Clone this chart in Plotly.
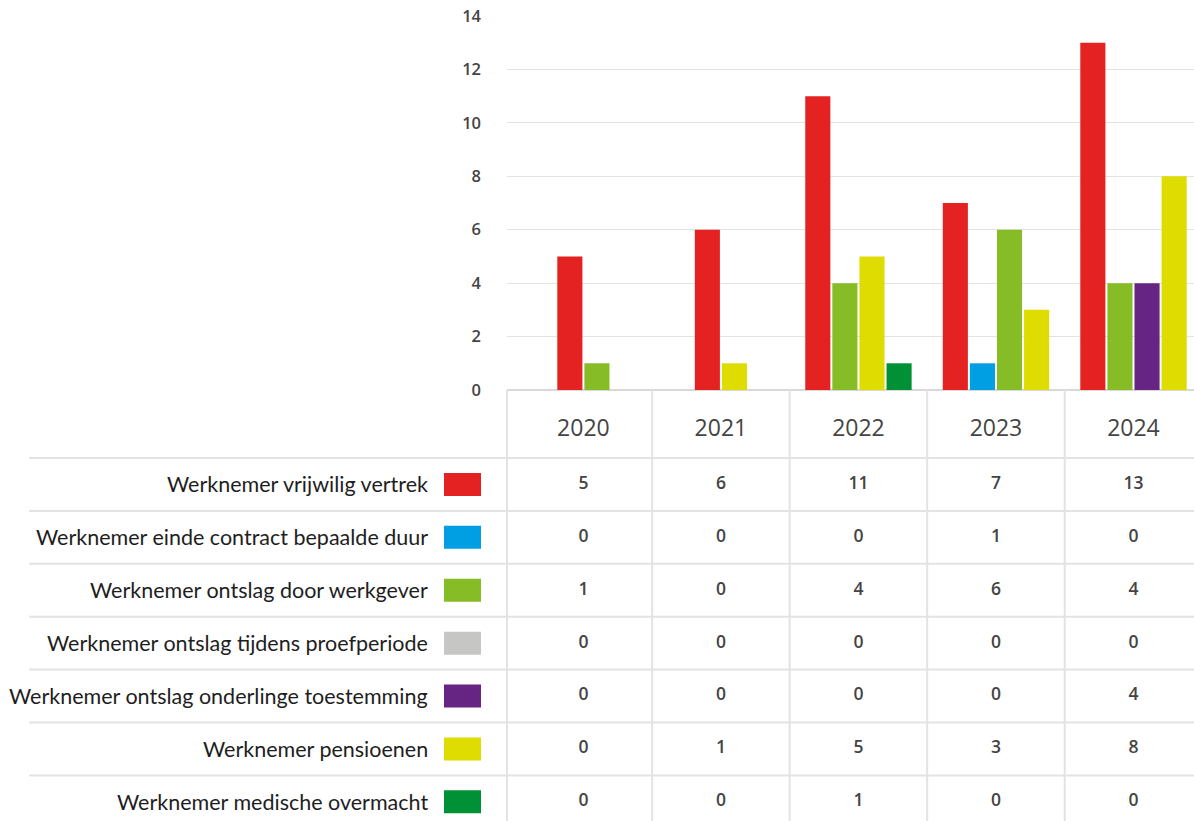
import plotly.graph_objects as go

# --- data -------------------------------------------------------------
years = ["2020", "2021", "2022", "2023", "2024"]

series_names = [
    "Werknemer vrijwilig vertrek",
    "Werknemer einde contract bepaalde duur",
    "Werknemer ontslag door werkgever",
    "Werknemer ontslag tijdens proefperiode",
    "Werknemer ontslag onderlinge toestemming",
    "Werknemer pensioenen",
    "Werknemer medische overmacht",
]

vrijwilig_vertrek = [5, 6, 11, 7, 13]
einde_contract = [0, 0, 0, 1, 0]
ontslag_werkgever = [1, 0, 4, 6, 4]
ontslag_proefperiode = [0, 0, 0, 0, 0]
ontslag_onderling = [0, 0, 0, 0, 4]
pensioenen = [0, 1, 5, 3, 8]
medische_overmacht = [0, 0, 1, 0, 0]

series_values = [
    vrijwilig_vertrek,
    einde_contract,
    ontslag_werkgever,
    ontslag_proefperiode,
    ontslag_onderling,
    pensioenen,
    medische_overmacht,
]

series_colors = ["#e52222", "#009fe3", "#86bc25", "#c6c6c5", "#662483", "#dedc00", "#009036"]

y_ticks = [0, 2, 4, 6, 8, 10, 12, 14]

# --- layout constants ---------------------------------------------------
W, H = 1194, 821
ML, MR, MT, MB = 507, 0, 16, 0
PLOT_W = W - ML - MR
PLOT_H = H - MT - MB
TABLE_PX = 431                      # height of the table block under the bars
split = TABLE_PX / PLOT_H

BAR_W = 0.1825                      # bar width in category units
SLOT = 0.197                        # bar width + gap
X_RANGE = [-0.5555, 4.44]
ROW_PX = 52.9
Y2_TOP = 0.5 - 68 / ROW_PX          # header row is 68 px tall
Y2_RANGE = [0.5 + (TABLE_PX - 68) / ROW_PX, Y2_TOP]

GRID = "#e3e3e3"
TXT = "#444444"


def px_to_paper_x(px):
    return (px - ML) / PLOT_W


# offsets: zero-valued bars are left out and the remaining bars are centred
offsets = [[0.0] * len(years) for _ in series_names]
for j in range(len(years)):
    present = [k for k in range(len(series_names)) if series_values[k][j] != 0]
    n = len(present)
    for p, k in enumerate(present):
        offsets[k][j] = -n * SLOT / 2 + p * SLOT + (SLOT - BAR_W) / 2

fig = go.Figure()

for k, name in enumerate(series_names):
    fig.add_trace(go.Bar(
        x=years, y=series_values[k], name=name,
        width=BAR_W, offset=offsets[k],
        marker=dict(color=series_colors[k], line=dict(width=0)),
        xaxis="x", yaxis="y", showlegend=False, hoverinfo="x+y+name",
    ))

# table: year header
fig.add_trace(go.Scatter(
    x=years, y=[0.5 - 28 / ROW_PX] * len(years), mode="text", text=years,
    textfont=dict(family="Open Sans", size=23, color=TXT),
    xaxis="x2", yaxis="y2", showlegend=False, hoverinfo="skip",
))

# table: values
cell_x, cell_y, cell_t = [], [], []
for k in range(len(series_names)):
    for j, yr in enumerate(years):
        cell_x.append(yr)
        cell_y.append(k + 1)
        cell_t.append(str(series_values[k][j]))
fig.add_trace(go.Scatter(
    x=cell_x, y=cell_y, mode="text", text=cell_t,
    textfont=dict(family="Open Sans", size=17.5, color=TXT, weight=600),
    xaxis="x2", yaxis="y2", showlegend=False, hoverinfo="skip",
))

shapes = []
annotations = []

# row separators
for r in range(len(series_names) + 1):
    shapes.append(dict(type="line", xref="paper", yref="y2",
                       x0=px_to_paper_x(29), x1=1, y0=r + 0.5, y1=r + 0.5,
                       line=dict(color=GRID, width=2), layer="below"))

# column separators
shapes.append(dict(type="line", xref="paper", yref="y2", x0=0, x1=0,
                   y0=Y2_RANGE[1], y1=Y2_RANGE[0] + 1,
                   line=dict(color=GRID, width=2), layer="below"))
for j in range(len(years) - 1):
    shapes.append(dict(type="line", xref="x2", yref="y2", x0=j + 0.5, x1=j + 0.5,
                       y0=Y2_RANGE[1], y1=Y2_RANGE[0] + 1,
                       line=dict(color=GRID, width=2), layer="below"))

# row labels and colour swatches
for k, name in enumerate(series_names):
    annotations.append(dict(
        xref="paper", yref="y2", x=px_to_paper_x(430), y=k + 1,
        text=name, showarrow=False, xanchor="right", yanchor="middle",
        font=dict(family="Lato", size=21.5, color="#1e1e1e"),
    ))
    shapes.append(dict(
        type="rect", xref="paper", yref="y2",
        x0=px_to_paper_x(444), x1=px_to_paper_x(481),
        y0=k + 1 - 11.5 / ROW_PX, y1=k + 1 + 11.5 / ROW_PX,
        fillcolor=series_colors[k], line=dict(width=0),
    ))

fig.update_layout(
    template="none",
    width=W, height=H,
    margin=dict(l=ML, r=MR, t=MT, b=MB, pad=0, autoexpand=False),
    paper_bgcolor="white", plot_bgcolor="white",
    barmode="overlay", showlegend=False,
    shapes=shapes, annotations=annotations,
    xaxis=dict(domain=[0, 1], anchor="y", type="category", range=X_RANGE,
               showticklabels=False, showgrid=False, zeroline=False,
               showline=False, ticks="", automargin=False),
    yaxis=dict(domain=[split, 1], anchor="x", range=[0, 14], tickvals=y_ticks,
               showgrid=True, gridcolor=GRID, gridwidth=1,
               zeroline=True, zerolinecolor="#d9d9d9", zerolinewidth=2,
               showline=False, ticks="", ticklabelstandoff=25, automargin=False,
               tickfont=dict(family="Open Sans", size=16.5, color=TXT, weight=600)),
    xaxis2=dict(domain=[0, 1], anchor="y2", matches="x", type="category",
                showticklabels=False, showgrid=False, zeroline=False, ticks="",
                automargin=False),
    yaxis2=dict(domain=[0, split], anchor="x2", range=Y2_RANGE,
                showticklabels=False, showgrid=False, zeroline=False, ticks="",
                automargin=False),
)

fig.write_html("out.html")
